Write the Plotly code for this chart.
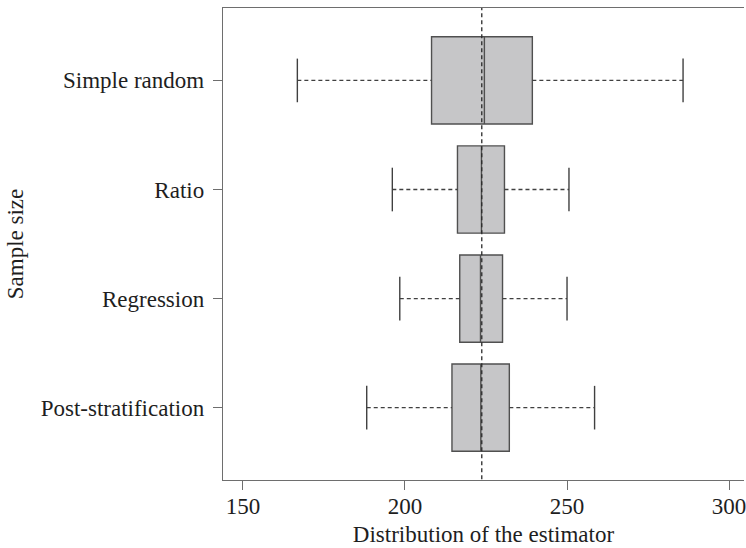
import plotly.graph_objects as go

# ---- data ----
categories = ["Simple random", "Ratio", "Regression", "Post-stratification"]
lower_whisker = [166.8, 196.1, 198.4, 188.2]
q1_values = [208.2, 216.2, 216.9, 214.5]
median_values = [224.5, 223.6, 223.3, 223.4]
q3_values = [239.3, 230.7, 230.1, 232.2]
upper_whisker = [285.8, 250.6, 250.0, 258.5]
reference_value = 223.7
x_ticks = [150, 200, 250, 300]

positions = list(range(1, len(categories) + 1))

FONT = "Liberation Serif"
TXT = "#1e1e1e"
AXC = "#6e6e6e"
BOXLINE = "#505050"
WHISK = "#404040"

fig = go.Figure()

# boxes
for p, a, m, b in zip(positions, q1_values, median_values, q3_values):
    fig.add_trace(go.Box(
        orientation="h", y=[p], q1=[a], median=[m], q3=[b],
        lowerfence=[a], upperfence=[b], width=0.8, whiskerwidth=0,
        fillcolor="#c6c6c8", line=dict(color=BOXLINE, width=1.4),
        boxpoints=False, showlegend=False, hoverinfo="skip"))

# whiskers (dashed) and caps (solid)
wx, wy, cx, cy = [], [], [], []
for p, lo, a, b, hi in zip(positions, lower_whisker, q1_values, q3_values, upper_whisker):
    wx += [lo, a, None, b, hi, None]
    wy += [p, p, None, p, p, None]
    cx += [lo, lo, None, hi, hi, None]
    cy += [p - 0.2, p + 0.2, None, p - 0.2, p + 0.2, None]

fig.add_trace(go.Scatter(x=wx, y=wy, mode="lines",
                         line=dict(color=WHISK, width=1.3, dash="4px,3px"),
                         showlegend=False, hoverinfo="skip"))
fig.add_trace(go.Scatter(x=cx, y=cy, mode="lines",
                         line=dict(color=WHISK, width=1.4),
                         showlegend=False, hoverinfo="skip"))

# reference vertical dashed line
fig.add_trace(go.Scatter(x=[reference_value, reference_value], y=[0, 5], mode="lines",
                         line=dict(color="#2a2a2a", width=1.3, dash="4px,3px"),
                         showlegend=False, hoverinfo="skip"))

fig.update_layout(
    width=746, height=548,
    margin=dict(l=223, r=0, t=8, b=68),
    paper_bgcolor="white", plot_bgcolor="white",
    font=dict(family=FONT, size=23, color=TXT),
    showlegend=False,
)
fig.update_xaxes(
    range=[143.86, 304.6], tickvals=x_ticks, ticktext=[str(t) for t in x_ticks],
    showgrid=False, zeroline=False,
    showline=True, mirror=True, linecolor=AXC, linewidth=1.4,
    ticks="outside", ticklen=9, tickwidth=1.4, tickcolor=AXC,
    tickfont=dict(family=FONT, size=23, color=TXT),
    ticklabeloverflow="allow", ticklabelstandoff=-4,
    title=dict(text="Distribution of the estimator", standoff=8,
               font=dict(family=FONT, size=23, color=TXT)),
)
fig.update_yaxes(
    range=[4.663, 0.336], tickvals=positions, ticktext=categories,
    showgrid=False, zeroline=False,
    showline=True, mirror=False, linecolor=AXC, linewidth=1.4,
    ticks="outside", ticklen=9, tickwidth=1.4, tickcolor=AXC,
    tickfont=dict(family=FONT, size=23, color=TXT),
    ticklabelstandoff=4,
    title=dict(text="Sample size", standoff=10,
               font=dict(family=FONT, size=23, color=TXT)),
)

fig.write_html("out.html")
